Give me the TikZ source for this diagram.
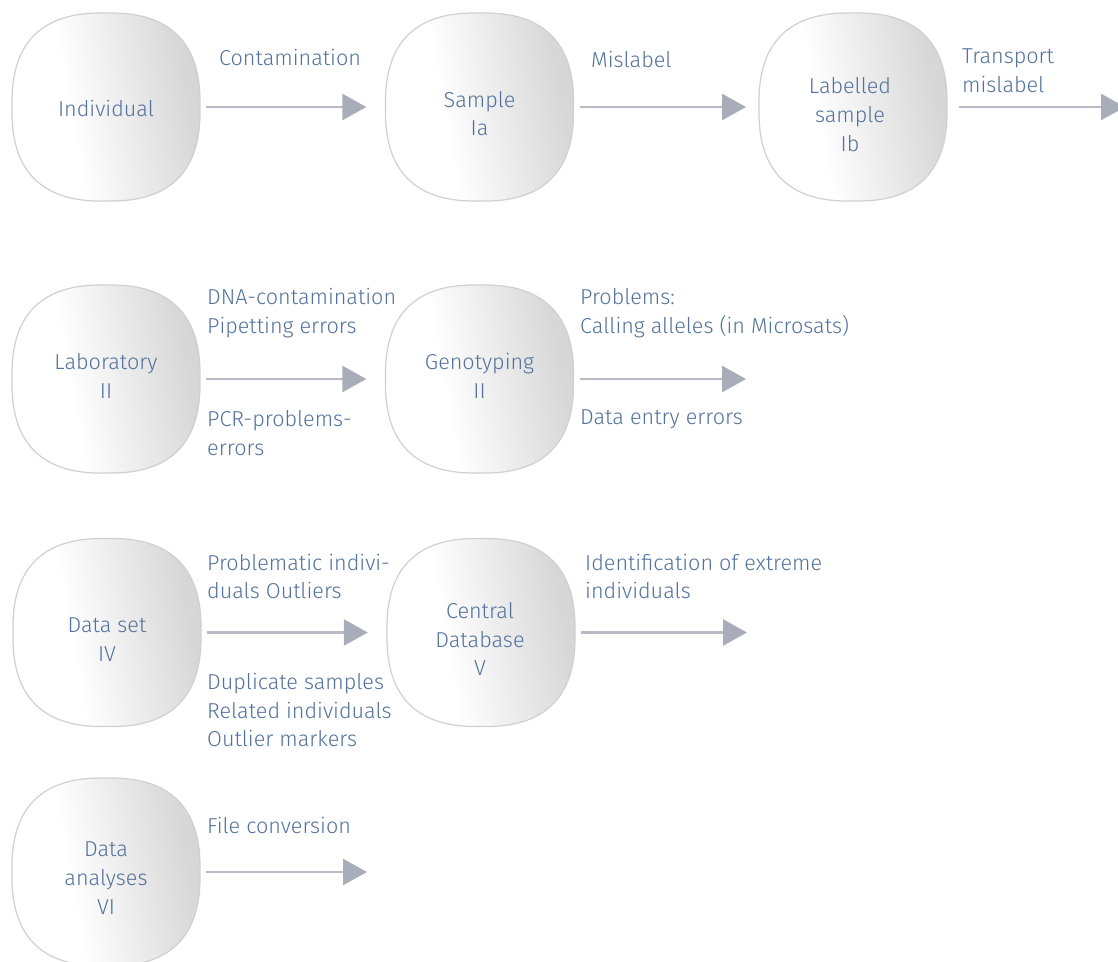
\documentclass[tikz,border=0pt]{standalone}
\usepackage{fontspec}
\setmainfont{Fira Sans}[UprightFont=* Light]
\usetikzlibrary{arrows.meta}
\definecolor{txtblue}{HTML}{52729C}
\definecolor{lineg}{HTML}{B8BBC6}
\definecolor{headg}{HTML}{A9ACB9}
\definecolor{boxedge}{HTML}{D0D0D0}
% soft grey sheen across each stage box, white on the left, grey on the right
\pgfdeclarehorizontalshading{stageshade}{100bp}{%
  color(0bp)=(white); color(40bp)=(white);
  color(72bp)=(gray!31); color(100bp)=(gray!46)}
% rounded-square outline drawn around a stage node (188pt square)
\newcommand\stageshape[1]{%
  \path[stageface, shift={(#1.center)}]
    (-6,-94) -- (6,-94) .. controls (64,-94) and (94,-64) .. (94,-6)
    -- (94,6) .. controls (94,64) and (64,94) .. (6,94)
    -- (-6,94) .. controls (-64,94) and (-94,64) .. (-94,6)
    -- (-94,-6) .. controls (-94,-64) and (-64,-94) .. (-6,-94) -- cycle;}

\begin{document}
\begin{tikzpicture}[x=1pt,y=-1pt,
  stage/.style={minimum width=188pt, minimum height=188pt, inner sep=0pt},
  stageface/.style={draw=boxedge, line width=1.2pt,
    shading=stageshade, shading angle=10},
  txt/.style={text=txtblue, font=\fontsize{21.6}{28.8}\selectfont,
    align=center, inner sep=0pt},
  lbl/.style={text=txtblue, font=\fontsize{21.6}{28.8}\selectfont,
    align=left, inner sep=0pt, anchor=west},
  flow/.style={draw=lineg, line width=2.6pt, shorten <=6pt,
    -{Triangle[length=24pt,width=26pt,color=headg]}},
  ]
\useasboundingbox (0,0) rectangle (1118,961);

% row 1: collection
\node[stage] (ind) at (106,107) {};
\node[stage] (smp) at (479.5,107) {};
\node[stage] (lab) at (853,107) {};
\stageshape{ind}\stageshape{smp}\stageshape{lab}
\node[txt] (tind) at (106,108) {Individual};
\node[txt] (tsmp) at (479.5,113.5) {Sample\\Ia};
\node[txt] (tlab) at (850,114.5) {Labelled\\sample\\Ib};
\coordinate (e2) at (746,107);
\coordinate (e3) at (1125,107);
\draw[flow, shorten >=19pt] (ind) -- (smp);
\draw[flow] (smp) -- (e2);
\draw[flow, shorten <=12pt] (lab) -- (e3);
\node[lbl] (l1) at (219,57) {Contamination};
\node[lbl] (l2) at (591,59) {Mislabel};
\node[lbl] (l3) at (962,71) {Transport\\mislabel};

% row 2: laboratory work
\node[stage] (labo) at (106,379) {};
\node[stage] (geno) at (479.5,379) {};
\stageshape{labo}\stageshape{geno}
\node[txt] (tlabo) at (106,376) {Laboratory\\II};
\node[txt] (tgeno) at (479.5,376) {Genotyping\\II};
\coordinate (e5) at (746,379);
\draw[flow, shorten >=19pt] (labo) -- (geno);
\draw[flow] (geno) -- (e5);
\node[lbl] (l4) at (207,313) {DNA-contamination\\Pipetting errors};
\node[lbl] (l5) at (207,433) {PCR-problems-\\errors};
\node[lbl] (l6) at (580,313.5) {Problems:\\Calling alleles (in Microsats)};
\node[lbl] (l7) at (580,419) {Data entry errors};

% row 3: data handling
\node[stage] (dset) at (107,632.5) {};
\node[stage] (cdb) at (481,632.5) {};
\stageshape{dset}\stageshape{cdb}
\node[txt] (tdset) at (107,639.5) {Data set\\IV};
\node[txt] (tcdb) at (480,639) {Central\\Database\\V};
\coordinate (e7) at (747,632.5);
\draw[flow, shorten >=19pt] (dset) -- (cdb);
\draw[flow] (cdb) -- (e7);
\node[lbl] (l8) at (207,576.5) {Problematic indivi-\\duals Outliers};
\node[lbl] (l9) at (207,710) {Duplicate samples\\Related individuals\\Outlier markers};
\node[lbl] (l10) at (585,576.5) {Identification of extreme\\individuals};

% row 4: analyses
\node[stage] (dan) at (106,872) {};
\stageshape{dan}
\node[txt] (tdan) at (106,878) {Data\\analyses\\VI};
\coordinate (e9) at (367,872);
\draw[flow] (dan) -- (e9);
\node[lbl] (l11) at (207,825) {File conversion};
\end{tikzpicture}
\end{document}
